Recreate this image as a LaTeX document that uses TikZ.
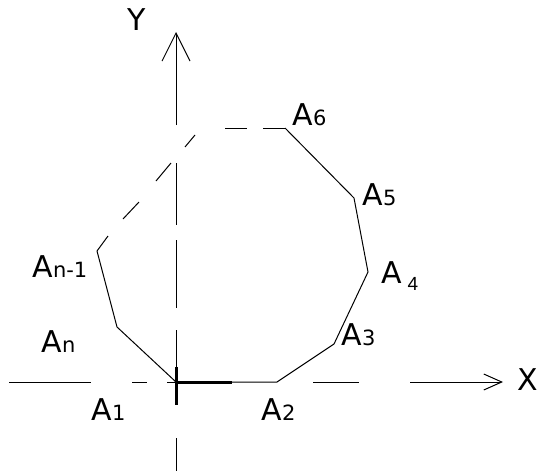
\documentclass[tikz,border=0pt]{standalone}
\usepackage{fontspec}
\setmainfont{DejaVu Sans}
\newfontfamily\arialf{Liberation Sans}
\usetikzlibrary{arrows.meta}
\newcommand\sbs[1]{{\fontsize{21}{21}\selectfont #1}}
\begin{document}
\begin{tikzpicture}[x=1pt,y=-1pt,line width=1pt,
  lbl/.style={anchor=base west,inner sep=0pt,font=\fontsize{30}{30}\selectfont},
  thickax/.style={line width=3pt}]
\useasboundingbox (0,0) rectangle (538,471);
% polygon vertices
\coordinate (A1) at (176,382);
\coordinate (A2) at (277,382);
\coordinate (A3) at (334,344);
\coordinate (A4) at (368,272);
\coordinate (A5) at (354,198);
\coordinate (A6) at (285,128);
\coordinate (An) at (117,327);
\coordinate (An1) at (97,251);
% X axis
\draw (9,382) -- (91,382);
\draw (132,382) -- (147,382);
\draw (167,382) -- (176,382);
\draw (313,382) -- (359,382);
\draw[-{Straight Barb[length=18pt,width=16pt]}] (410,382) -- (503,382);
% Y axis
\draw[-{Straight Barb[length=28pt,width=28pt]}] (176,125) -- (176,32);
\draw (176,163) -- (176,225);
\draw (176,240) -- (176,308);
\draw (176,330) -- (176,405);
\draw (176,438) -- (176,471);
\draw[thickax] (176,367) -- (176,405);
\draw[thickax] (176,382) -- (232,382);
% polygon
\draw (A6) -- (A5) -- (A4) -- (A3) -- (A2) -- (A1) -- (An) -- (An1);
% dashed part
\draw (263,128) -- (A6);
\draw (225,128) -- (247,128);
\draw (195,135) -- (185,147);
\draw (171,163) -- (156,181);
\draw (139,202) -- (123,219);
\draw (108,236) -- (An1);
% labels
\node[lbl] (lY) at (127,30) {Y};
\node[lbl] (lX) at (517,390) {X};
\node[lbl] (l6) at (292,125) {A\sbs{6}};
\node[lbl] (l5) at (362,205) {A\sbs{5}};
\node[lbl] (l4) at (381,283) {A};
\node[anchor=base west,inner sep=0pt,font=\arialf\fontsize{19}{19}\selectfont] (l4b) at (407,290) {4};
\node[lbl] (l3) at (341,345) {A\sbs{3}};
\node[lbl] (l2) at (261,420) {A\sbs{2}};
\node[lbl] (l1) at (91,420) {A\sbs{1}};
\node[lbl] (ln) at (41,352) {A\sbs{n}};
\node[lbl] (ln1) at (32,277) {A\sbs{n-1}};
\end{tikzpicture}
\end{document}
